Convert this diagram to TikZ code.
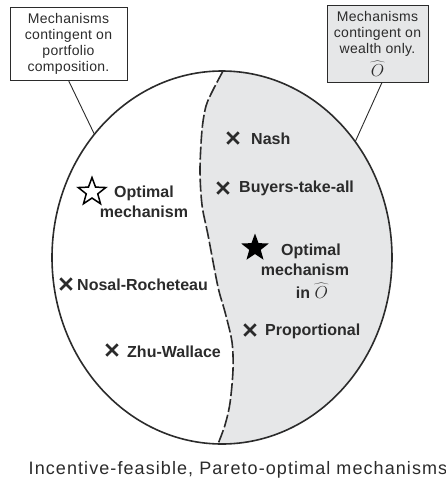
\documentclass[tikz,border=0pt]{standalone}
\usepackage[no-math]{fontspec}
\setmainfont{Liberation Sans}
\usetikzlibrary{shapes.geometric}
\definecolor{ink}{HTML}{2B2B2B}
\definecolor{lightfill}{HTML}{E6E7E8}
\newcommand{\Ohat}{\mbox{\ooalign{\hidewidth$\widehat{\phantom{O}\kern.3em}$\hidewidth\cr$O$\cr}}}
\tikzset{
  lbl/.style={text=ink, inner sep=0pt, anchor=west, font=\bfseries\fontsize{16}{20}\selectfont},
  mlbl/.style={text=ink, inner sep=0pt, align=center, font=\bfseries\fontsize{16}{20}\selectfont},
  xstroke/.style={draw=ink, line width=2.5pt},
  xm/.style={inner sep=0pt, minimum size=11pt,
    append after command={(\tikzlastnode.south west) edge[xstroke] (\tikzlastnode.north east)
                          (\tikzlastnode.north west) edge[xstroke] (\tikzlastnode.south east)}},
  callout/.style={draw=ink, line width=0.9pt, inner sep=0pt, align=center,
    font=\addfontfeature{LetterSpace=2}\fontsize{14}{16}\selectfont, text=ink},
  conn/.style={draw=ink, line width=0.9pt},
  divider/.style={draw=ink, line width=1.6pt, dash pattern=on 13pt off 3pt},
}
\begin{document}
\begin{tikzpicture}[x=1pt,y=-1pt]
\useasboundingbox (0,0) rectangle (446,482);
% shaded region right of the divider
\begin{scope}
  \clip (223,60) -- plot[smooth] coordinates {(223,71) (213,90) (206,106) (202,130) (200,170) (202,205) (208,235) (218,287) (225,312) (232,342) (233,370) (230,403) (225,425) (218,444)} -- (218,460) -- (460,460) -- (460,60) -- cycle;
  \fill[lightfill] (222,257.5) ellipse [x radius=170pt, y radius=186.5pt];
\end{scope}
% divider
\draw[divider] plot[smooth] coordinates {(223,71) (213,90) (206,106) (202,130) (200,170) (202,205) (208,235) (218,287) (225,312) (232,342) (233,370) (230,403) (225,425) (218,444)};
% outer set
\node[ellipse, draw=ink, line width=1.6pt, inner sep=0pt, outer sep=0pt,
      minimum width=340pt, minimum height=373pt] (set) at (222,257.5) {};
% callout boxes
\node[callout, minimum width=117pt, minimum height=73pt] (lbox) at (68.5,43.5)
  {Mechanisms\\contingent on\\portfolio\\composition.};
\node[callout, fill=lightfill, minimum width=101pt, minimum height=77pt] (rbox) at (377.5,43.5)
  {Mechanisms\\contingent on\\wealth only.\\[4pt]{\fontsize{16}{16}\selectfont\Ohat}};
\draw[conn] (lbox.south) -- (set.136);
\draw[conn] ([xshift=4.5pt]rbox.south) -- (set.41);
% stars
\node[star, star points=5, star point ratio=2.4, minimum size=29pt, inner sep=0pt,
      draw=black, line width=1.5pt, fill=white] (ostar) at (92,192) {};
\node[star, star points=5, star point ratio=2.4, minimum size=29pt, inner sep=0pt,
      fill=black] (fstar) at (255,248) {};
\node[mlbl] (optA) at (144,202) {Optimal\\mechanism};
\node[mlbl] (optB) at (305,271) {\hspace*{12pt}Optimal\\mechanism\\[3pt]\hspace*{14pt}in {\fontsize{17}{17}\selectfont\Ohat}};
% x marks and labels
\node[xm] (x1) at (233,138) {};
\node[lbl] (nash) at (251,139) {Nash};
\node[xm] (x2) at (223,188) {};
\node[lbl] (bta) at (239,188) {Buyers-take-all};
\node[xm] (x3) at (66,284) {};
\node[lbl] (nr) at (77,285) {Nosal-Rocheteau};
\node[xm] (x4) at (250,330) {};
\node[lbl] (prop) at (265,331) {Proportional};
\node[xm] (x5) at (112,350) {};
\node[lbl] (zw) at (127,352) {Zhu-Wallace};
% caption
\node[text=ink, inner sep=0pt, font=\addfontfeature{LetterSpace=6}\fontsize{18}{20}\selectfont] (cap) at (238,470)
  {Incentive-feasible, Pareto-optimal mechanisms};
\end{tikzpicture}
\end{document}
